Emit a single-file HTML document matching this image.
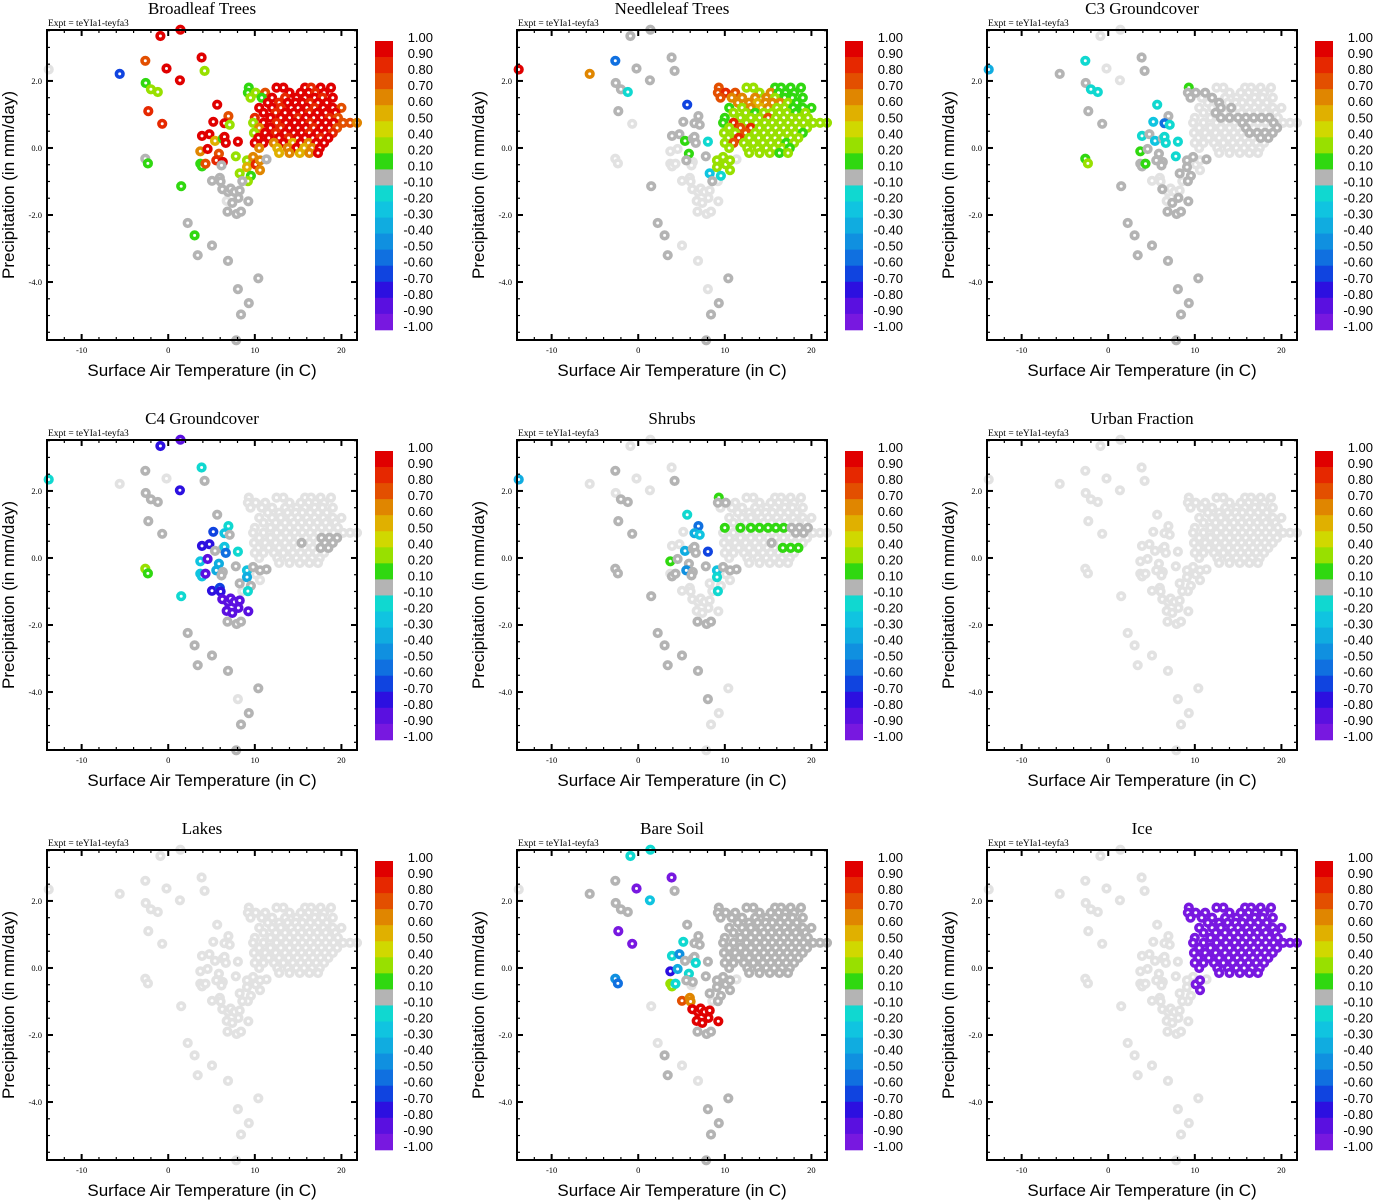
<!DOCTYPE html>
<html><head><meta charset="utf-8">
<style>
html,body{margin:0;padding:0;background:#fff;}
svg{display:block;}
.ttl{font-family:"Liberation Serif",serif;font-size:17px;}
.expt{font-family:"Liberation Serif",serif;font-size:9.5px;}
.axt{font-family:"Liberation Sans",sans-serif;font-size:17px;}
.tk{font-family:"Liberation Serif",serif;font-size:8.5px;}
.cb{font-family:"Liberation Sans",sans-serif;font-size:13px;}
</style></head>
<body>
<svg id="fig" width="1373" height="1200" xmlns="http://www.w3.org/2000/svg"></svg>
<script>
const n=null;
// shared point locations: scattered points then cluster
const scatterT=[-13.8,-5.6,-2.65,-2.6,-2.0,-1.2,-0.9,1.4,-0.2,1.35,3.85,4.2,-2.3,-0.7,-2.65,-2.35,5.65,6.95,6.5,7.1,5.2,3.9,4.75,5.4,6.3,6.5,6.65,8.05,3.7,4.55,5.85,5.55,6.3,6.15,7.8,3.7,3.9,4.3,8.25,9.1,9.1,9.8,10.1,10.6,10.6,11.35,9.55,9.2,8.55,5.05,5.95,6.05,6.25,6.9,7.2,7.65,8.25,8.1,6.75,7.4,9.25,6.85,7.9,8.4,1.5,2.25,3.05,5.05,3.4,6.9,10.4,8.05,9.3,8.4,7.85];
const scatterP=[2.34,2.21,2.6,1.94,1.75,1.67,3.34,3.53,2.37,2.02,2.7,2.3,1.1,0.72,-0.32,-0.46,1.29,0.95,0.74,0.69,0.78,0.36,0.41,0.21,0.28,0.33,0.15,0.19,-0.1,-0.03,-0.17,-0.37,-0.42,-0.52,-0.25,-0.47,-0.55,-0.47,-0.76,-0.37,-0.57,-0.27,-0.49,-0.37,-0.66,-0.34,-0.83,-0.99,-0.99,-0.98,-0.89,-1.0,-1.23,-1.31,-1.21,-1.31,-1.27,-1.49,-1.58,-1.64,-1.59,-1.9,-1.97,-1.9,-1.14,-2.24,-2.61,-2.91,-3.2,-3.37,-3.89,-4.21,-4.63,-4.97,-5.74];
const clusterT=[9.3,12.5,13.3,15.8,16.5,17.6,18.8, 9.2,10.1,11.2,14.0,15.3,16.2,17.0,18.0, 9.5,10.8,12.0,13.5,14.8,15.8,16.9,17.8,19.0, 11.5,12.8,13.8,14.7,15.5,16.4,17.3,18.3, 10.5,12.0,13.0,14.2,15.0,16.0,16.9,17.9,19.0,20.0, 11.0,12.4,13.5,14.5,15.4,16.3,17.2,18.2,19.3, 10.0,11.8,13.0,14.0,15.0,15.9,16.8,17.7,18.6,19.6, 9.8,11.0,12.5,13.6,14.6,15.5,16.4,17.3,18.2,19.1,20.2,21.0,21.8, 10.5,11.8,13.0,14.0,15.0,15.9,16.8,17.7,18.6,19.5, 9.9,11.2,12.4,13.5,14.5,15.4,16.3,17.2,18.1,19.0, 10.4,11.6,12.8,13.9,14.9,15.8,16.7,17.6,18.5, 10.0,11.0,12.2,13.3,14.4,15.3,16.2,17.1,18.0, 10.5,12.6,13.8,14.8,15.7,16.6,17.5, 12.8,14.0,15.2,16.3,17.3];
const clusterP=[1.8,1.8,1.8,1.8,1.8,1.8,1.8, 1.65,1.65,1.65,1.65,1.65,1.65,1.65,1.65, 1.5,1.5,1.5,1.5,1.5,1.5,1.5,1.5,1.5, 1.35,1.35,1.35,1.35,1.35,1.35,1.35,1.35, 1.2,1.2,1.2,1.2,1.2,1.2,1.2,1.2,1.2,1.2, 1.05,1.05,1.05,1.05,1.05,1.05,1.05,1.05,1.05, 0.9,0.9,0.9,0.9,0.9,0.9,0.9,0.9,0.9,0.9, 0.75,0.75,0.75,0.75,0.75,0.75,0.75,0.75,0.75,0.75,0.75,0.75,0.75, 0.6,0.6,0.6,0.6,0.6,0.6,0.6,0.6,0.6,0.6, 0.45,0.45,0.45,0.45,0.45,0.45,0.45,0.45,0.45,0.45, 0.3,0.3,0.3,0.3,0.3,0.3,0.3,0.3,0.3, 0.15,0.15,0.15,0.15,0.15,0.15,0.15,0.15,0.15, 0.0,0.0,0.0,0.0,0.0,0.0,0.0, -0.15,-0.15,-0.15,-0.15,-0.15];

const panelTitles=["Broadleaf Trees","Needleleaf Trees","C3 Groundcover","C4 Groundcover","Shrubs","Urban Fraction","Lakes","Bare Soil","Ice"];

const broadleafScatter=[n,-0.65,.75,.15,.3,.3,.95,.95,.95,.95,.95,.3,.85,.85,0,.15,.95,.75,.95,.3,.95,.95,.95,.55,.15,.95,.9,.95,.65,.9,.75,.8,.9,0,.3,.15,.15,.75,.3,.3,.55,.65,.85,.65,.6,0,.15,.3,0,0,0,0,0,0,0,0,0,0,n,0,0,0,0,0,.15,0,.15,0,0,0,0,0,0,0,0];
const broadleafCluster=[.15,.9,.95,.95,.85,.95,.95, .15,.3,.75,.95,.9,.95,.85,.95, .3,.15,.95,.85,.95,.9,.95,.85,.95, .95,.85,.95,.9,.95,.85,.95,.9, .9,.95,.85,.95,.9,.95,.85,.95,.9,.75, .95,.85,.95,.9,.95,.85,.95,.9,.95, .85,.95,.9,.95,.85,.95,.9,.95,.85,.75, .3,.95,.85,.95,.9,.95,.85,.95,.9,.95,.75,.75,.65, .6,.95,.85,.95,.9,.95,.85,.95,.9,.75, .3,.95,.85,.95,.9,.95,.85,.95,.9,.85, .95,.9,.95,.85,.95,.9,.95,.85,.95, .95,.9,.65,.95,.55,.95,.65,.95,.9, .65,.55,.65,.95,.55,.65,.95, .55,.65,.55,.65,.95];

const needleScatter=[.9,.6,-0.55,0,0,-0.15,0,0,0,0,0,0,0,n,n,n,-0.65,0,0,0,0,0,0,.15,0,0,0,-0.15,n,n,.15,0,n,n,0,n,n,n,-0.25,.3,.3,.3,.3,.3,.3,n,-0.15,n,0,n,n,n,n,n,n,n,n,n,n,n,n,n,n,n,0,0,0,n,0,n,0,n,0,0,0];
const needleCluster=[.75,.3,.3,.15,.15,.15,.15, .75,.85,.75,.3,.6,.15,.15,.15, .75,.6,.6,.6,.6,.3,.15,.15,.15, .6,.6,.55,.6,.6,.6,.3,.15, .15,.3,.6,.55,.6,.3,.3,.15,.15,.15, .3,.3,.15,.3,.3,.3,.3,.15,.3, .15,.3,.3,.3,.75,.3,.3,.3,.3,.3, .15,.85,.3,.3,.3,.3,.3,.3,.3,.3,.3,.3,.3, .3,.75,.8,.3,.3,.3,.3,.3,.3,.3, .3,.3,.75,.3,.3,.3,.3,.3,.3,.15, .3,.85,.3,.3,.3,.3,.3,.3,.3, .3,.75,.3,.3,.3,.3,.3,.15,.3, .3,.3,.3,.3,.3,.3,.15, .3,.3,.3,.15,.3];

const c3Scatter=[-0.35,0,-0.2,0,-0.2,-0.2,n,n,n,n,0,0,0,0,.15,.3,-0.2,0,-0.6,-0.2,-0.3,-0.2,0,-0.3,0,-0.2,-0.2,-0.2,.15,0,0,0,0,0,-0.2,0,0,.15,0,0,0,0,n,n,n,0,0,0,n,n,n,n,0,n,n,n,n,0,n,0,0,0,0,0,0,0,0,0,0,0,0,0,0,0,0];
const c3Cluster=[.15,n,n,n,n,n,n, 0,0,0,n,n,n,n,n, 0,n,0,n,n,n,n,n,n, n,0,n,n,n,n,n,n, n,n,0,0,n,n,n,n,n,n, n,0,n,n,n,n,n,n,n, n,n,0,0,0,0,0,0,0,n, n,n,n,n,n,0,n,n,n,0,n,n,n, n,n,n,n,n,0,n,n,n,0, n,n,n,n,n,n,0,0,0,0, n,n,n,n,n,n,n,0,0, n,n,n,n,n,n,n,n,n, n,n,n,n,n,n,n, n,n,n,n,n];

const c4Scatter=[-0.2,n,0,0,0,0,-0.75,-0.9,n,-0.8,-0.2,0,0,0,.3,.15,0,-0.2,-0.25,0,-0.65,-0.8,-0.8,0,0,-0.3,-0.6,-0.2,-0.25,-0.85,-0.4,-0.4,0,0,0,-0.25,-0.25,-0.85,0,-0.3,-0.35,0,n,0,n,0,0,-0.2,n,-0.8,-0.7,-0.75,-0.9,-0.9,-0.9,-0.9,-0.9,-0.9,-0.9,-0.9,-0.9,0,0,0,-0.2,0,0,0,0,0,0,n,0,0,0];
const c4Cluster=[n,n,n,n,n,n,n, n,n,n,n,n,n,n,n, n,n,n,n,n,n,n,n,n, n,n,n,n,n,n,n,n, n,n,n,n,n,n,n,n,n,n, n,n,n,n,n,n,n,n,n, n,n,n,n,n,n,n,n,n,n, n,n,n,n,n,n,n,n,n,n,n,n,n, n,n,n,n,n,n,n,0,0,0, n,n,n,n,n,0,n,n,0,0, n,n,n,n,n,n,n,0,0, n,n,n,n,n,n,n,n,n, n,n,n,n,n,n,n, n,n,n,n,n];

const shrubScatter=[-0.35,n,0,n,0,0,n,n,n,n,n,0,0,0,0,0,-0.2,-0.55,-0.4,-0.25,n,n,n,-0.4,0,0,0,-0.7,.15,0,0,-0.45,0,0,0,n,0,0,n,-0.25,-0.2,0,n,0,n,0,n,-0.2,n,n,n,n,n,n,n,n,n,n,n,n,n,0,0,0,0,0,0,0,0,0,n,0,n,n,n];
const shrubCluster=[.15,n,n,n,n,n,n, 0,0,n,n,n,n,n,n, n,n,n,n,n,n,n,n,n, n,n,n,n,n,n,n,n, n,n,n,n,n,n,n,n,n,n, n,n,n,n,n,n,n,n,n, .15,.15,.15,.15,.15,.15,.15,0,0,0, n,n,n,n,n,n,n,n,0,0,n,n,n, n,n,n,n,n,n,n,n,n,n, n,n,n,n,n,0,n,n,n,n, n,n,n,n,n,n,.15,.15,.15, n,n,n,n,n,n,n,n,n, n,n,n,n,n,n,n, n,n,n,n,n];

const urbanScatter=[n,n,n,n,n,n,n,n,n,n,n,n,n,n,n,n,n,n,n,n,n,n,n,n,n,n,n,n,n,n,n,n,n,n,n,n,n,n,n,n,n,n,n,n,n,n,n,n,n,n,n,n,n,n,n,n,n,n,n,n,n,n,n,n,n,n,n,n,n,n,n,n,n,n,n];
const urbanCluster=[n,n,n,n,n,n,n, n,n,n,n,n,n,n,n, n,n,n,n,n,n,n,n,n, n,n,n,n,n,n,n,n, n,n,n,n,n,n,n,n,n,n, n,n,n,n,n,n,n,n,n, n,n,n,n,n,n,n,n,n,n, n,n,n,n,n,n,n,n,n,n,n,n,n, n,n,n,n,n,n,n,n,n,n, n,n,n,n,n,n,n,n,n,n, n,n,n,n,n,n,n,n,n, n,n,n,n,n,n,n,n,n, n,n,n,n,n,n,n, n,n,n,n,n];
const lakeScatter=[n,n,n,n,n,n,n,n,n,n,n,n,n,n,n,n,n,n,n,n,n,n,n,n,n,n,n,n,n,n,n,n,n,n,n,n,n,n,n,n,n,n,n,n,n,n,n,n,n,n,n,n,n,n,n,n,n,n,n,n,n,n,n,n,n,n,n,n,n,n,n,n,n,n,n];
const lakeCluster=[n,n,n,n,n,n,n, n,n,n,n,n,n,n,n, n,n,n,n,n,n,n,n,n, n,n,n,n,n,n,n,n, n,n,n,n,n,n,n,n,n,n, n,n,n,n,n,n,n,n,n, n,n,n,n,n,n,n,n,n,n, n,n,n,n,n,n,n,n,n,n,n,n,n, n,n,n,n,n,n,n,n,n,n, n,n,n,n,n,n,n,n,n,n, n,n,n,n,n,n,n,n,n, n,n,n,n,n,n,n,n,n, n,n,n,n,n,n,n, n,n,n,n,n];

const soilScatter=[n,0,0,0,0,0,-0.2,-0.2,-0.95,-0.25,-0.95,0,-0.95,-0.95,-0.5,-0.55,0,0,0,0,-0.2,-0.2,-0.45,0,0,0,-0.2,0,-0.75,-0.4,-0.2,0,0,n,0,.3,.3,-0.2,0,0,0,0,0,0,0,n,0,0,n,.75,.6,.6,.9,.9,.9,.9,.9,.9,.9,.9,.9,0,0,0,n,n,0,n,0,n,0,0,0,0,0];
const soilCluster=[0,0,0,0,0,0,0, 0,0,0,0,0,0,0,0, 0,0,0,0,0,0,0,0,0, 0,0,0,0,0,0,0,0, 0,0,0,0,0,0,0,0,0,0, 0,0,0,0,0,0,0,0,0, 0,0,0,0,0,0,0,0,0,0, 0,0,0,0,0,0,0,0,0,0,0,0,0, 0,0,0,0,0,0,0,0,0,0, 0,0,0,0,0,0,0,0,0,0, 0,0,0,0,0,0,0,0,0, 0,0,0,0,0,0,0,0,0, 0,0,0,0,0,0,0, 0,0,0,0,0];

const iceScatter=[n,n,n,n,n,n,n,n,n,n,n,n,n,n,n,n,n,n,n,n,n,n,n,n,n,n,n,n,n,n,n,n,n,n,n,n,n,n,n,n,n,n,-0.95,-0.95,-0.95,n,n,n,n,n,n,n,n,n,n,n,n,n,n,n,n,n,n,n,n,n,n,n,n,n,n,n,n,n,n];
const iceCluster=[-0.95,-0.95,-0.95,-0.95,-0.95,-0.95,-0.95, -0.95,-0.95,-0.95,-0.95,-0.95,-0.95,-0.95,-0.95, -0.95,-0.95,-0.95,-0.95,-0.95,-0.95,-0.95,-0.95,-0.95, -0.95,-0.95,-0.95,-0.95,-0.95,-0.95,-0.95,-0.95, -0.95,-0.95,-0.95,-0.95,-0.95,-0.95,-0.95,-0.95,-0.95,-0.95, -0.95,-0.95,-0.95,-0.95,-0.95,-0.95,-0.95,-0.95,-0.95, -0.95,-0.95,-0.95,-0.95,-0.95,-0.95,-0.95,-0.95,-0.95,-0.95, -0.95,-0.95,-0.95,-0.95,-0.95,-0.95,-0.95,-0.95,-0.95,-0.95,-0.95,-0.95,-0.95, -0.95,-0.95,-0.95,-0.95,-0.95,-0.95,-0.95,-0.95,-0.95,-0.95, -0.95,-0.95,-0.95,-0.95,-0.95,-0.95,-0.95,-0.95,-0.95,-0.95, -0.95,-0.95,-0.95,-0.95,-0.95,-0.95,-0.95,-0.95,-0.95, -0.95,-0.95,-0.95,-0.95,-0.95,-0.95,-0.95,-0.95,-0.95, -0.95,-0.95,-0.95,-0.95,-0.95,-0.95,-0.95, -0.95,-0.95,-0.95,-0.95,-0.95];

const xTicks=[-10,0,10,20];
const yTicks=[2,0,-2,-4];
const cbLabels=["1.00","0.90","0.80","0.70","0.60","0.50","0.40","0.20","0.10","-0.10","-0.20","-0.30","-0.40","-0.50","-0.60","-0.70","-0.80","-0.90","-1.00"];
const cbEdges=[1,0.9,0.8,0.7,0.6,0.5,0.4,0.2,0.1,-0.1,-0.2,-0.3,-0.4,-0.5,-0.6,-0.7,-0.8,-0.9,-1];
const cbColors=["#e00000","#e62800","#e34f00","#e08600","#e0b000","#d0d800","#98e000","#30d810","#b4b4b4","#10d8d0","#10c4e0","#10ace0","#1090e0","#1070e0","#1044e0","#2c10e0","#5a10e0","#7818e0"];
const NULLC="#e2e2e2";

const panelScatter=[broadleafScatter,needleScatter,c3Scatter,c4Scatter,shrubScatter,urbanScatter,lakeScatter,soilScatter,iceScatter];
const panelCluster=[broadleafCluster,needleCluster,c3Cluster,c4Cluster,shrubCluster,urbanCluster,lakeCluster,soilCluster,iceCluster];

const NS="http://www.w3.org/2000/svg";
const svg=document.getElementById('fig');
function mk(tag,attrs,parent){const e=document.createElementNS(NS,tag);for(const k in attrs)e.setAttribute(k,attrs[k]);(parent||svg).appendChild(e);return e;}
const L=47,R=357,T=30,B=340,XMIN=-14.0,XMAX=21.8,YMIN=-5.73,YMAX=3.52;
function xs(v){return L+(v-XMIN)/(XMAX-XMIN)*(R-L);}
function ys(v){return B-(v-YMIN)/(YMAX-YMIN)*(B-T);}
function color(v){if(v===null||v===undefined)return NULLC;for(let i=0;i<cbColors.length;i++){if(v>=cbEdges[i+1])return cbColors[i];}return cbColors[cbColors.length-1];}
function slug(s){return s.toLowerCase().replace(/[^a-z0-9]+/g,'-');}

for(let p=0;p<9;p++){
  const ox=(p%3)*470, oy=Math.floor(p/3)*410;
  const g=mk('g',{transform:`translate(${ox},${oy})`});
  
  
  const t=mk('text',{x:202,y:14,'text-anchor':'middle',class:'ttl'},g);t.textContent=panelTitles[p];
  
  
  const ex=mk('text',{x:48,y:26,class:'expt'},g);ex.textContent="Expt = teYIa1-teyfa3";
  
  
  const allT=scatterT.concat(clusterT), allP=scatterP.concat(clusterP);
  const vals=panelScatter[p].concat(panelCluster[p]);
  const pg=mk('g',{},g);
  
  
  const order=[];
  for(let i=0;i<allT.length;i++) if(vals[i]===null||vals[i]===undefined) order.push(i);
  for(let i=0;i<allT.length;i++) if(!(vals[i]===null||vals[i]===undefined)) order.push(i);
  order.forEach(i=>{
    const c=mk('circle',{cx:xs(allT[i]).toFixed(1),cy:ys(allP[i]).toFixed(1),r:3.3,fill:'#fff',stroke:color(vals[i]),'stroke-width':3.6},pg);
    
    
  });
  const fr=mk('rect',{x:L,y:T,width:R-L,height:B-T,fill:'none',stroke:'#000','stroke-width':2},g);
  
  
  for(let v=-14;v<=21.8;v+=2){const X=xs(v);mk('line',{x1:X,y1:B,x2:X,y2:B-3,stroke:'#000','stroke-width':1.2},g);mk('line',{x1:X,y1:T,x2:X,y2:T+3,stroke:'#000','stroke-width':1.2},g);}
  for(let v=-5.5;v<=3.5;v+=0.5){const Y=ys(v);mk('line',{x1:L,y1:Y,x2:L+3,y2:Y,stroke:'#000','stroke-width':1.2},g);mk('line',{x1:R,y1:Y,x2:R-3,y2:Y,stroke:'#000','stroke-width':1.2},g);}
  xTicks.forEach(v=>{const X=xs(v);mk('line',{x1:X,y1:B,x2:X,y2:B-6,stroke:'#000','stroke-width':2},g);mk('line',{x1:X,y1:T,x2:X,y2:T+6,stroke:'#000','stroke-width':2},g);
    const tx=mk('text',{x:X,y:B+13,'text-anchor':'middle',class:'tk'},g);tx.textContent=v;
    
    });
  yTicks.forEach(v=>{const Y=ys(v);mk('line',{x1:L,y1:Y,x2:L+6,y2:Y,stroke:'#000','stroke-width':2},g);mk('line',{x1:R,y1:Y,x2:R-6,y2:Y,stroke:'#000','stroke-width':2},g);
    const ty=mk('text',{x:L-5,y:Y+3,'text-anchor':'end',class:'tk'},g);ty.textContent=v.toFixed(1);
    
    });
  const xt=mk('text',{x:202,y:376,'text-anchor':'middle',class:'axt'},g);xt.textContent="Surface Air Temperature (in C)";
  
  
  const yt=mk('text',{x:0,y:0,'text-anchor':'middle',class:'axt',transform:'translate(14,185) rotate(-90)'},g);yt.textContent="Precipitation (in mm/day)";
  
  
  const cb=mk('g',{},g);
  
  
  const cbTop=41,cbH=16.05;
  cbColors.forEach((c,i)=>{const r=mk('rect',{x:375,y:(cbTop+i*cbH).toFixed(2),width:18,height:(cbH+0.4).toFixed(2),fill:c},cb);
    
    });
  cbLabels.forEach((s,i)=>{const tl=mk('text',{x:433,y:(cbTop+i*cbH+1).toFixed(1),'text-anchor':'end',class:'cb'},cb);tl.textContent=s;
    
    });
}
</script>
</body></html>
